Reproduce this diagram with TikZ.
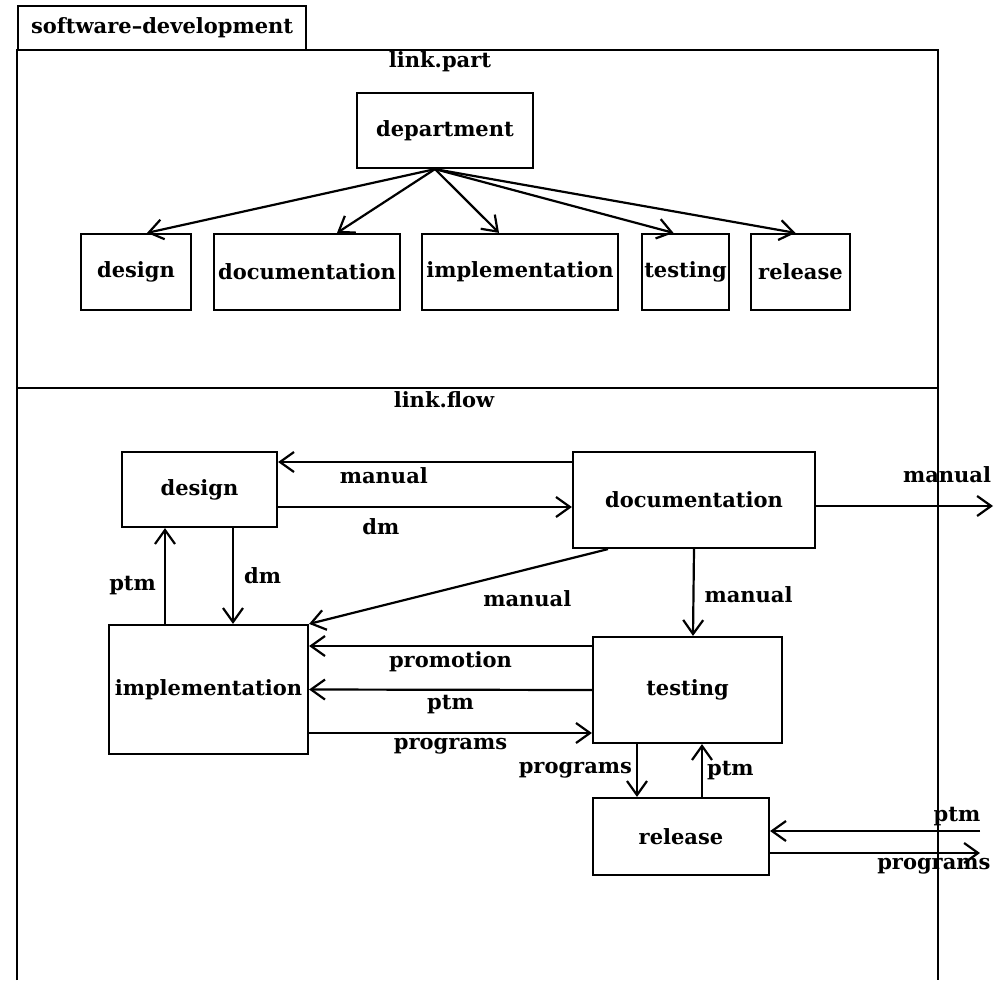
\documentclass[tikz,border=0pt]{standalone}
\usepackage{fontspec}
\setmainfont{DejaVu Serif}
\usepackage{tikz}
\usetikzlibrary{positioning}
\usetikzlibrary{arrows.meta}

\begin{document}
\begin{tikzpicture}[x=0.5pt,y=-0.5pt,font=\fontsize{10.5}{12.5}\selectfont\bfseries]
	\tikzstyle{block}=[rectangle, draw=black, line width=1.1pt, inner sep=2pt]
	\tikzstyle{flow}=[-{Straight Barb[length=7pt,width=10pt]}, line width=1.1pt]
	\tikzstyle{lbl}=[inner sep=2pt]
	
	\useasboundingbox (0,0) rectangle (995,980);
	
	% frame
	\node at (17,28) [block, anchor=west, minimum height=22pt, text width=131pt, inner xsep=6.5pt, align=left] (tab) {software--development};
	\draw [line width=1pt] (17,980) -- (17,50) -- (938,50) -- (938,980);
	\draw [line width=1pt] (17,388) -- (938,388);
	\node at (440,62) [lbl] (lpart) {link.part};
	\node at (444,400) [lbl] (lflow) {link.flow};
	
	% link.part
	\node at (445,130.5) [block, minimum width=88pt, minimum height=37.5pt] (pdept) {department};
	\node at (136,272) [block, minimum width=55pt, minimum height=38pt] (pdesign) {design};
	\node at (307,272) [block, minimum width=93pt, minimum height=38pt] (pdoc) {documentation};
	\node at (520,272) [block, minimum width=98pt, minimum height=38pt] (pimpl) {implementation};
	\node at (685.5,272) [block, minimum width=43.5pt, minimum height=38pt, inner xsep=0.5pt] (ptest) {testing};
	\node at (800.5,272) [block, minimum width=49.5pt, minimum height=38pt] (prel) {release};
	
	\coordinate (dsrc) at ([xshift=-5pt]pdept.south);
	\draw [flow] (dsrc) to ([xshift=5.5pt]pdesign.north);
	\draw [flow] (dsrc) to ([xshift=15pt]pdoc.north);
	\draw [flow] (dsrc) to ([xshift=-10.5pt]pimpl.north);
	\draw [flow] (dsrc) to ([xshift=-6pt]ptest.north);
	\draw [flow] (dsrc) to ([xshift=-2.5pt]prel.north);
	
	% link.flow
	\node at (199.5,489.5) [block, minimum width=77.5pt, minimum height=37.5pt] (design) {design};
	\node at (694,500) [block, minimum width=121pt, minimum height=48pt] (doc) {documentation};
	\node at (208.5,689.5) [block, minimum width=99.5pt, minimum height=64.5pt] (impl) {implementation};
	\node at (687.5,690) [block, minimum width=94.5pt, minimum height=53pt] (test) {testing};
	\node at (681,836.5) [block, minimum width=88pt, minimum height=38.5pt] (rel) {release};
	
	\coordinate (manout) at (993,506);
	\coordinate (ptmin) at (980,831);
	\coordinate (progout) at (980,853);
	
	\draw [flow] ([yshift=19pt]doc.west) to node[lbl, pos=0.64, below]{manual} ([yshift=13.75pt]design.east);
	\draw [flow] ([yshift=-8.75pt]design.east) to node[lbl, pos=0.35, below=3pt]{dm} ([yshift=-3.5pt]doc.west);
	\draw [flow] ([xshift=16.75pt]design.south) to node[lbl, right=3pt]{dm} ([xshift=12.25pt]impl.north);
	\draw [flow] ([xshift=-21.75pt]impl.north) to node[lbl, pos=0.4, left=2pt]{ptm} ([xshift=-17.25pt]design.south);
	\draw [flow] ([xshift=-43pt]doc.south) to node[lbl, pos=0.27, below=8pt]{manual} (impl.north east);
	\draw [flow] (doc.south) to node[lbl, pos=0.53, right=3pt]{manual} ([xshift=2.75pt]test.north);
	
	\draw [flow] ([yshift=22pt]test.west) to node[lbl, below]{promotion} ([yshift=21.75pt]impl.east);
	\draw [flow] (test.west) to node[lbl, below]{ptm} (impl.east);
	\draw [flow] ([yshift=-21.75pt]impl.east) to node[lbl, below]{programs} ([yshift=-21.5pt]test.west);
	
	\draw [flow] ([xshift=-25.25pt]test.south) to node[lbl, left]{programs} ([xshift=-22pt]rel.north);
	\draw [flow] ([xshift=10.5pt]rel.north) to node[lbl, right]{ptm} ([xshift=7.25pt]test.south);
	
	\draw [flow] ([yshift=-3pt]doc.east) to node[lbl, pos=0.74, above=9pt]{manual} (manout);
	\draw [flow] (ptmin) to node[lbl, pos=0.11, above]{ptm} ([yshift=2.75pt]rel.east);
	\draw [flow] ([yshift=-8.25pt]rel.east) to node[lbl, pos=0.78, below]{programs} (progout);
\end{tikzpicture}
\end{document}
